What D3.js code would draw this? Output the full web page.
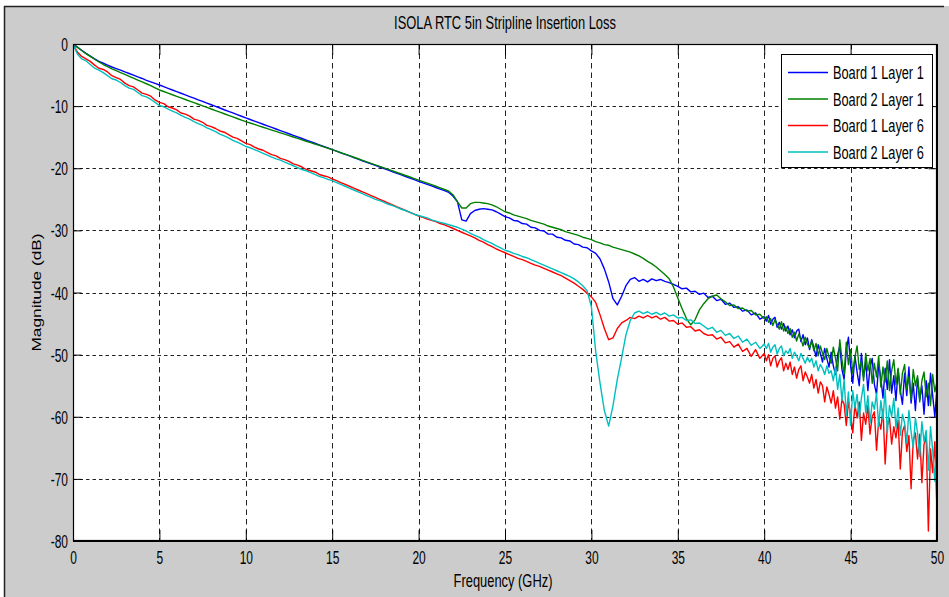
<!DOCTYPE html>
<html><head><meta charset="utf-8">
<script src="https://cdn.jsdelivr.net/npm/d3@7"></script>
<style>
html,body{margin:0;padding:0;background:#fff;}
svg{display:block;}
text{font-family:"Liberation Sans",Arial,Helvetica,sans-serif;fill:#000;}
</style>
</head><body>
<svg id="chart" width="949" height="597"></svg>
<script>
// ---------- data ----------
const titleText = "ISOLA RTC 5in Stripline Insertion Loss";
const xLabelText = "Frequency (GHz)";
const yLabelText = "Magnitude (dB)";
// sampling: 0..40 GHz every 0.25 GHz, then 40.125..50 GHz every 0.125 GHz
const lowStep = 0.25, lowEnd = 40, highStep = 0.125;
const xTickValues = [0,5,10,15,20,25,30,35,40,45,50];
const yTickValues = [0,-10,-20,-30,-40,-50,-60,-70,-80];
const seriesNames = ["Board 1 Layer 1","Board 2 Layer 1","Board 1 Layer 6","Board 2 Layer 6"];

// ---- 0 .. 40 GHz (step 0.25) ----
const board1Layer1Low = [0,
 -0.5,-1.0,-1.5,-1.95,-2.4,-2.8,-3.1,-3.4,-3.7,-3.95,-4.2,-4.5,-4.75,-5.0,-5.3,-5.55,-5.85,-6.1,-6.35,-6.6,
 -6.87,-7.13,-7.4,-7.66,-7.93,-8.2,-8.46,-8.72,-9.0,-9.25,-9.52,-9.78,-10.05,-10.3,-10.58,-10.84,-11.1,-11.37,-11.63,-11.9,
 -12.15,-12.4,-12.66,-12.92,-13.17,-13.43,-13.68,-13.94,-14.2,-14.45,-14.7,-14.96,-15.21,-15.47,-15.72,-15.98,-16.23,-16.49,-16.74,-17.0,
 -17.25,-17.51,-17.77,-18.02,-18.28,-18.53,-18.79,-19.04,-19.3,-19.55,-19.8,-20.06,-20.31,-20.57,-20.82,-21.08,-21.33,-21.59,-21.84,-22.1,
 -22.35,-22.6,-22.85,-23.1,-23.35,-23.6,-23.9,-24.5,-25.4,-28.3,-28.5,-27.3,-26.8,-26.6,-26.5,-26.6,-26.7,-27.0,-27.4,-27.8,
 -28.0,-28.4,-28.5,-28.9,-29.0,-29.5,-29.6,-30.0,-30.1,-30.6,-30.6,-31.1,-31.2,-31.6,-31.7,-32.2,-32.3,-32.7,-32.8,-33.3,
 -33.7,-34.6,-36.2,-38.3,-41.0,-42.0,-40.6,-38.9,-37.9,-37.6,-38.2,-37.9,-38.3,-37.8,-38.1,-37.9,-38.2,-38.4,-38.7,-39.0,
 -39.4,-39.3,-39.9,-39.8,-40.3,-40.1,-40.8,-40.6,-41.3,-41.1,-41.9,-41.7,-42.4,-42.3,-43.0,-42.8,-43.6,-43.3,-44.3,-43.9];

const board2Layer1Low = [0,
 -0.5,-1.05,-1.55,-2.0,-2.45,-2.9,-3.3,-3.65,-4.0,-4.3,-4.6,-4.9,-5.2,-5.5,-5.8,-6.1,-6.4,-6.7,-7.05,-7.4,
 -7.65,-7.9,-8.17,-8.42,-8.68,-8.93,-9.19,-9.44,-9.7,-9.95,-10.2,-10.46,-10.72,-10.97,-11.23,-11.48,-11.74,-11.99,-12.25,-12.5,
 -12.72,-12.95,-13.17,-13.4,-13.62,-13.85,-14.07,-14.3,-14.52,-14.75,-14.97,-15.2,-15.42,-15.65,-15.87,-16.1,-16.32,-16.55,-16.77,-17.0,
 -17.25,-17.5,-17.74,-17.98,-18.23,-18.47,-18.72,-18.96,-19.21,-19.45,-19.7,-19.94,-20.19,-20.43,-20.68,-20.92,-21.17,-21.41,-21.66,-21.9,
 -22.15,-22.4,-22.65,-22.9,-23.15,-23.4,-23.7,-24.3,-25.4,-26.4,-26.4,-25.7,-25.5,-25.5,-25.6,-25.7,-25.9,-26.2,-26.6,-27.0,
 -27.2,-27.5,-27.7,-27.9,-28.1,-28.4,-28.6,-28.8,-29.0,-29.3,-29.5,-29.7,-29.9,-30.2,-30.4,-30.6,-30.8,-31.1,-31.3,-31.5,
 -31.8,-32.0,-32.3,-32.4,-32.7,-32.9,-33.1,-33.3,-33.5,-33.8,-34.1,-34.5,-35.0,-35.4,-35.9,-36.5,-37.1,-37.8,-39.1,-40.9,
 -42.6,-44.2,-45.2,-44.4,-42.8,-41.8,-41.0,-40.6,-40.4,-41.0,-41.5,-42.1,-42.0,-42.6,-42.5,-43.0,-42.9,-43.6,-43.5,-44.2];

const board1Layer6Low = [0,
 -1.3,-2.0,-2.4,-2.8,-3.4,-3.9,-4.1,-4.5,-5.1,-5.4,-5.7,-6.3,-6.7,-6.9,-7.4,-7.9,-8.1,-8.4,-9.0,-9.4,
 -9.6,-10.1,-10.3,-10.6,-11.1,-11.3,-11.6,-12.1,-12.3,-12.6,-13.1,-13.3,-13.6,-14.0,-14.2,-14.6,-15.0,-15.2,-15.6,-16.0,
 -16.2,-16.6,-16.9,-17.1,-17.5,-17.8,-18.0,-18.4,-18.6,-18.9,-19.3,-19.5,-19.8,-20.2,-20.4,-20.6,-21.0,-21.2,-21.4,-21.7,
 -22.0,-22.3,-22.6,-22.9,-23.2,-23.5,-23.8,-24.1,-24.4,-24.7,-25.0,-25.3,-25.6,-25.9,-26.2,-26.5,-26.8,-27.1,-27.4,-27.7,
 -27.9,-28.2,-28.4,-28.6,-28.9,-29.1,-29.4,-29.7,-30.0,-30.3,-30.6,-30.9,-31.2,-31.6,-31.9,-32.3,-32.6,-33.0,-33.3,-33.6,
 -33.9,-34.2,-34.5,-34.7,-35.0,-35.3,-35.6,-35.8,-36.1,-36.4,-36.7,-37.0,-37.3,-37.7,-38.1,-38.5,-39.0,-39.5,-40.1,-40.7,
 -41.6,-43.6,-45.8,-47.6,-47.3,-45.8,-44.9,-44.5,-44.0,-44.2,-43.8,-44.1,-43.7,-44.1,-43.8,-44.3,-44.0,-44.6,-44.5,-45.1,
 -44.9,-45.6,-45.5,-46.2,-46.0,-46.6,-46.9,-46.8,-47.5,-47.2,-48.1,-47.9,-48.8,-48.3,-49.5,-49.0,-50.3,-49.2,-50.6,-49.8];

const board2Layer6Low = [0,
 -1.6,-2.4,-2.7,-3.3,-3.9,-4.2,-4.6,-5.1,-5.6,-5.8,-6.2,-6.7,-7.1,-7.3,-7.8,-8.3,-8.5,-8.9,-9.4,-9.9,
 -10.1,-10.5,-10.8,-11.1,-11.5,-11.8,-12.1,-12.5,-12.8,-13.1,-13.5,-13.8,-14.1,-14.5,-14.8,-15.1,-15.5,-15.8,-16.1,-16.5,
 -16.7,-17.0,-17.3,-17.6,-17.9,-18.2,-18.5,-18.7,-19.0,-19.3,-19.6,-19.9,-20.2,-20.4,-20.7,-21.0,-21.3,-21.5,-21.8,-22.0,
 -22.3,-22.6,-22.9,-23.2,-23.5,-23.8,-24.1,-24.4,-24.7,-25.0,-25.2,-25.5,-25.8,-26.0,-26.3,-26.6,-26.8,-27.1,-27.4,-27.6,
 -27.8,-28.0,-28.3,-28.5,-28.7,-28.9,-29.1,-29.3,-29.5,-29.8,-30.1,-30.5,-30.8,-31.1,-31.5,-31.8,-32.1,-32.5,-32.8,-33.2,
 -33.4,-33.7,-33.9,-34.2,-34.4,-34.7,-35.0,-35.3,-35.6,-35.9,-36.2,-36.5,-36.8,-37.1,-37.4,-37.8,-38.3,-38.9,-39.7,-42.3,
 -49.5,-54.6,-59.0,-61.5,-58.2,-54.0,-50.5,-46.8,-44.5,-43.3,-43.0,-43.4,-43.1,-43.5,-43.2,-43.6,-43.3,-43.8,-43.6,-44.1,
 -44.0,-44.5,-44.4,-45.0,-44.9,-45.4,-45.9,-45.6,-46.4,-46.1,-46.9,-46.6,-47.4,-47.0,-48.0,-47.5,-48.5,-48.0,-49.0,-48.3];

// ---- 40.125 .. 50 GHz (step 0.125), noisy region ----
const board1Layer1High = [
 -44.6,-43.7,-45.1,-44.3,-44.0,-45.6,-44.8,-45.9,-45.0,-46.2,
 -45.4,-46.8,-46.0,-47.3,-46.2,-45.9,-47.9,-46.8,-48.4,-47.3,
 -49.2,-47.6,-48.9,-50.3,-48.4,-49.8,-51.2,-49.0,-50.6,-52.0,
 -49.6,-51.8,-53.2,-50.0,-48.6,-52.4,-54.0,-49.4,-47.2,-51.8,
 -54.6,-50.2,-52.8,-55.0,-49.8,-53.6,-51.2,-55.8,-52.0,-50.6,
 -54.8,-56.4,-51.6,-53.8,-57.0,-52.2,-55.6,-50.8,-56.2,-53.4,
 -57.4,-52.4,-55.8,-58.0,-53.0,-56.6,-52.0,-57.8,-54.6,-59.0,
 -53.8,-57.2,-55.0,-59.6,-54.2,-58.2,-53.0,-56.6,-60.0,-55.4];

const board2Layer1High = [
 -43.9,-44.8,-44.2,-45.3,-44.4,-45.1,-45.9,-44.7,-46.2,-45.5,
 -46.6,-45.8,-47.2,-46.4,-47.8,-46.7,-47.5,-48.6,-47.2,-48.3,
 -48.9,-47.8,-49.4,-48.2,-50.2,-48.6,-49.8,-50.8,-49.0,-50.4,
 -51.4,-48.8,-50.6,-52.6,-47.6,-50.8,-53.2,-48.0,-51.6,-49.2,
 -53.0,-50.4,-48.6,-52.4,-51.0,-54.2,-49.8,-52.6,-50.6,-54.6,
 -51.4,-53.6,-50.2,-55.2,-52.0,-54.4,-51.0,-55.8,-52.6,-50.8,
 -54.8,-52.2,-56.4,-53.0,-51.6,-55.6,-53.6,-57.2,-52.4,-55.0,
 -53.4,-57.6,-54.2,-52.8,-56.8,-54.6,-58.2,-53.2,-56.0,-54.4];

const board1Layer6High = [
 -51.0,-50.0,-51.8,-50.6,-50.2,-52.0,-51.0,-50.5,-52.6,-51.4,
 -52.4,-51.2,-53.2,-52.0,-53.8,-52.4,-51.8,-54.2,-52.8,-53.6,
 -54.6,-53.2,-55.4,-54.0,-56.2,-54.4,-55.0,-57.6,-55.2,-56.4,
 -57.8,-55.8,-58.6,-56.8,-60.4,-57.2,-58.0,-61.4,-57.6,-59.6,
 -62.6,-58.0,-60.2,-57.6,-63.8,-59.4,-61.2,-58.2,-62.8,-60.0,
 -59.2,-65.4,-60.6,-62.0,-58.8,-67.6,-61.4,-60.2,-64.4,-61.6,
 -63.4,-60.6,-68.4,-62.4,-61.4,-65.6,-63.0,-71.6,-63.8,-62.6,
 -66.8,-62.8,-70.6,-64.4,-63.2,-78.4,-65.2,-69.0,-64.0,-75.0];

const board2Layer6High = [
 -49.0,-48.2,-49.6,-48.8,-48.4,-49.9,-49.0,-48.6,-50.2,-49.4,
 -49.8,-49.0,-50.6,-49.6,-50.2,-51.0,-49.8,-50.6,-51.4,-50.4,
 -51.2,-50.6,-52.0,-51.0,-52.6,-51.6,-52.2,-53.2,-51.8,-53.0,
 -52.6,-54.2,-52.0,-55.6,-53.2,-57.4,-54.0,-59.8,-56.0,-61.4,
 -55.8,-58.6,-56.4,-60.2,-57.0,-54.8,-59.4,-56.6,-61.0,-57.6,
 -58.8,-56.2,-61.6,-57.4,-60.4,-55.6,-62.6,-58.2,-60.0,-57.0,
 -61.8,-58.6,-63.0,-59.6,-61.0,-64.2,-59.0,-62.4,-65.0,-60.2,
 -62.6,-66.4,-60.8,-64.0,-62.2,-68.6,-61.6,-65.4,-70.4,-63.6];

// ---------- drawing ----------
const seriesLow = [board1Layer1Low, board2Layer1Low, board1Layer6Low, board2Layer6Low];
const seriesHigh = [board1Layer1High, board2Layer1High, board1Layer6High, board2Layer6High];
const seriesColors = ["#0000ff", "#008000", "#ff0000", "#00bfbf"];

function toPoints(low, high){
  const pts = low.map((v,i)=>[i*lowStep, v]);
  high.forEach((v,i)=>pts.push([lowEnd + (i+1)*highStep, v]));
  return pts;
}

const W = 949, H = 597;
const plot = {left: 73, right: 937, top: 44, bottom: 541};
const svg = d3.select("#chart");

// figure background
svg.append("rect").attr("x",0).attr("y",0).attr("width",W).attr("height",H).attr("fill","#ffffff");
svg.append("rect").attr("x",4).attr("y",6).attr("width",W-4).attr("height",H-6).attr("fill","#cccccc");
svg.append("line").attr("x1",4).attr("x2",944).attr("y1",6.5).attr("y2",6.5).attr("stroke","#222").attr("stroke-width",1.5);
svg.append("line").attr("x1",4.5).attr("x2",4.5).attr("y1",6).attr("y2",H).attr("stroke","#222").attr("stroke-width",1.5);

const x = d3.scaleLinear().domain([0,50]).range([plot.left, plot.right]);
const y = d3.scaleLinear().domain([-80,0]).range([plot.bottom, plot.top]);

// plot area
svg.append("rect").attr("x",plot.left).attr("y",plot.top)
  .attr("width",plot.right-plot.left).attr("height",plot.bottom-plot.top).attr("fill","#fff");

// grid
const grid = svg.append("g").attr("stroke","#222").attr("stroke-width",1).attr("fill","none");
grid.selectAll("line.vx").data(xTickValues.filter(v=>v>0&&v<50)).join("line")
  .attr("x1",d=>Math.round(x(d))+0.5).attr("x2",d=>Math.round(x(d))+0.5)
  .attr("y1",plot.top).attr("y2",plot.bottom).attr("stroke-dasharray","5.5,4");
grid.selectAll("line.hy").data(yTickValues.filter(v=>v<0&&v>-80)).join("line")
  .attr("x1",plot.left).attr("x2",plot.right)
  .attr("y1",d=>Math.round(y(d))+0.5).attr("y2",d=>Math.round(y(d))+0.5).attr("stroke-dasharray","3.5,3");

// series
const clipId = "plotclip";
svg.append("clipPath").attr("id",clipId).append("rect")
  .attr("x",plot.left).attr("y",plot.top).attr("width",plot.right-plot.left).attr("height",plot.bottom-plot.top);
const line = d3.line().x(d=>x(d[0])).y(d=>y(d[1]));
const lines = svg.append("g").attr("clip-path",`url(#${clipId})`);
seriesLow.forEach((low,k)=>{
  lines.append("path").datum(toPoints(low, seriesHigh[k])).attr("d",line).attr("fill","none")
    .attr("stroke",seriesColors[k]).attr("stroke-width",1.4).attr("stroke-linejoin","round");
});

// axes (ticks inside)
const fontSize = 13.3;
const fmt = d => String(d);
const xAxis = svg.append("g").attr("transform",`translate(0,${plot.bottom})`)
  .call(d3.axisBottom(x).tickValues(xTickValues).tickSize(-11).tickSizeOuter(0).tickFormat(fmt));
xAxis.selectAll("text").attr("y",null).attr("dy",null)
  .attr("font-size",fontSize).attr("fill","#000")
  .attr("transform","translate(0,23) scale(0.9,1.33)");
const yAxis = svg.append("g").attr("transform",`translate(${plot.left},0)`)
  .call(d3.axisLeft(y).tickValues(yTickValues).tickSize(-8.6).tickSizeOuter(0).tickFormat(fmt));
yAxis.selectAll("text").attr("x",null).attr("dy",null)
  .attr("font-size",fontSize).attr("fill","#000")
  .attr("transform","translate(-5,6.5) scale(0.9,1.33)");
svg.append("g").attr("transform",`translate(0,${plot.top})`)
  .call(d3.axisTop(x).tickValues(xTickValues).tickSize(-11).tickSizeOuter(0).tickFormat(""));
svg.append("g").attr("transform",`translate(${plot.right},0)`)
  .call(d3.axisRight(y).tickValues(yTickValues).tickSize(-8.6).tickSizeOuter(0).tickFormat(""));
svg.selectAll(".domain").attr("stroke","#000");
svg.selectAll(".tick line").attr("stroke","#000");

// frame
svg.append("rect").attr("x",plot.left+0.5).attr("y",plot.top+0.5)
  .attr("width",plot.right-plot.left-1).attr("height",plot.bottom-plot.top-1)
  .attr("fill","none").attr("stroke","#000").attr("stroke-width",1.2);

// title & labels
svg.append("text").attr("text-anchor","middle").attr("font-size",fontSize)
  .attr("transform",`translate(${(plot.left+plot.right)/2},29) scale(0.97,1.33)`).text(titleText);
svg.append("text").attr("text-anchor","middle").attr("font-size",fontSize)
  .attr("transform",`translate(503,587) scale(0.97,1.33)`).text(xLabelText);
svg.append("text").attr("text-anchor","middle").attr("font-size",fontSize)
  .attr("transform",`translate(41,${(plot.top+plot.bottom)/2}) rotate(-90) scale(1.3,1)`).text(yLabelText);

// legend
const lg = svg.append("g");
lg.append("rect").attr("x",781.5).attr("y",54.5).attr("width",151).attr("height",113)
  .attr("fill","#fff").attr("stroke","#000").attr("stroke-width",1);
const rowY = d3.scaleLinear().domain([0,3]).range([72.5,152]);
seriesNames.forEach((name,k)=>{
  const yy = rowY(k);
  lg.append("line").attr("x1",788).attr("x2",828).attr("y1",yy).attr("y2",yy)
    .attr("stroke",seriesColors[k]).attr("stroke-width",1.4);
  lg.append("text").attr("font-size",fontSize)
    .attr("transform",`translate(833,${yy+6.5}) scale(0.96,1.33)`).text(name);
});
</script>
</body></html>
